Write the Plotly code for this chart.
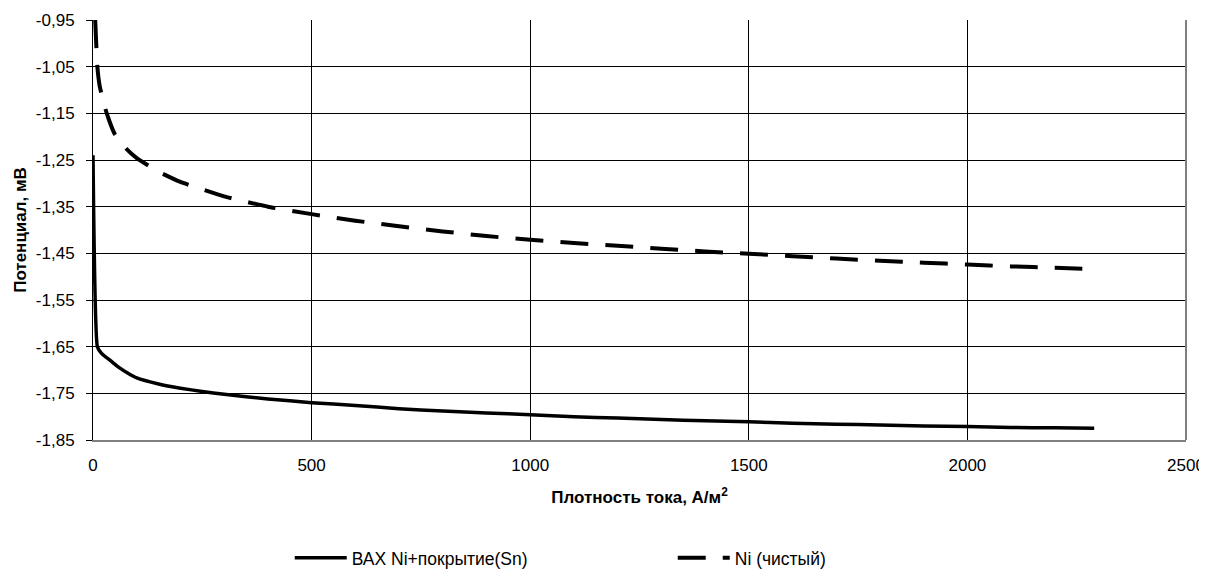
import plotly.graph_objects as go

# Data
x_sn = [0, 10, 20, 40, 60, 80, 100, 150, 200, 250, 300, 400, 500, 600, 700, 800, 900,
        1000, 1100, 1200, 1300, 1400, 1500, 1600, 1700, 1800, 1900, 2000, 2100, 2200, 2290]
y_sn = [-1.24, -1.65, -1.665, -1.68, -1.695, -1.707, -1.717, -1.73, -1.739, -1.746, -1.752,
        -1.762, -1.770, -1.776, -1.783, -1.788, -1.792, -1.796, -1.800, -1.803, -1.806,
        -1.809, -1.811, -1.814, -1.816, -1.818, -1.820, -1.821, -1.823, -1.824, -1.825]

x_ni = [5, 10, 15, 25, 35, 50, 75, 100, 150, 200, 250, 300, 400, 500, 600, 700, 800, 900,
        1000, 1100, 1200, 1300, 1400, 1500, 1600, 1700, 1800, 1900, 2000, 2100, 2200, 2290]
y_ni = [-0.95, -1.05, -1.09, -1.13, -1.16, -1.195, -1.225, -1.246, -1.275, -1.297, -1.313,
        -1.328, -1.350, -1.366, -1.380, -1.392, -1.403, -1.413, -1.421, -1.428, -1.434,
        -1.440, -1.446, -1.451, -1.456, -1.461, -1.466, -1.470, -1.474, -1.478, -1.481, -1.484]

name_sn = "ВАХ Ni+покрытие(Sn)"
name_ni = "Ni (чистый)"

x_tickvals = [0, 500, 1000, 1500, 2000, 2500]
x_ticktext = ["0", "500", "1000", "1500", "2000", "2500"]
y_tickvals = [-0.95, -1.05, -1.15, -1.25, -1.35, -1.45, -1.55, -1.65, -1.75, -1.85]
y_ticktext = ["-0,95", "-1,05", "-1,15", "-1,25", "-1,35", "-1,45", "-1,55", "-1,65", "-1,75", "-1,85"]

x_title = "Плотность тока, А/м<sup>2</sup>"
y_title = "Потенциал, мВ"

FONT = "Liberation Sans, Arial, sans-serif"

fig = go.Figure()
fig.add_trace(go.Scatter(x=x_sn, y=y_sn, mode="lines", name=name_sn,
                         line=dict(color="black", width=3.5, shape="spline", smoothing=0.4)))
fig.add_trace(go.Scatter(x=x_ni, y=y_ni, mode="lines", name=name_ni,
                         line=dict(color="black", width=4, dash="28px,17px",
                                   shape="spline", smoothing=0.4)))

# the page body adds an 8px offset; compensate in size and margins
fig.update_layout(
    width=1199, height=567,
    margin=dict(l=85, r=21, t=12, b=135),
    paper_bgcolor="white", plot_bgcolor="white",
    font=dict(family=FONT, size=17, color="black"),
    showlegend=True,
    legend=dict(orientation="h", xref="paper", x=0.18, xanchor="left",
                yref="container", y=0.03, yanchor="middle",
                font=dict(size=17.5), itemwidth=52, entrywidth=316,
                bgcolor="rgba(0,0,0,0)"),
    xaxis=dict(range=[0, 2500], tickmode="array", tickvals=x_tickvals, ticktext=x_ticktext,
               showgrid=True, gridcolor="black", gridwidth=1, zeroline=False,
               showline=True, linecolor="#808080", linewidth=2, mirror=False,
               ticks="outside", ticklen=9, tickcolor="rgba(0,0,0,0)",
               tickfont=dict(size=17), automargin=False, ticklabeloverflow="allow",
               title=dict(text=x_title, font=dict(size=17, family=FONT, weight="bold"), standoff=17)),
    yaxis=dict(range=[-1.85, -0.95], tickmode="array", tickvals=y_tickvals, ticktext=y_ticktext,
               showgrid=True, gridcolor="black", gridwidth=1, zeroline=False,
               showline=True, linecolor="black", linewidth=1, mirror=False,
               ticks="outside", ticklen=6, tickcolor="black", ticklabelstandoff=8,
               tickfont=dict(size=17), automargin=False, ticklabeloverflow="allow",
               title=dict(text=y_title, font=dict(size=17, family=FONT, weight="bold"), standoff=4)),
    shapes=[dict(type="line", xref="paper", yref="paper", x0=1, x1=1, y0=0, y1=1,
                 line=dict(color="#808080", width=2))],
)

fig.write_html("out.html")
